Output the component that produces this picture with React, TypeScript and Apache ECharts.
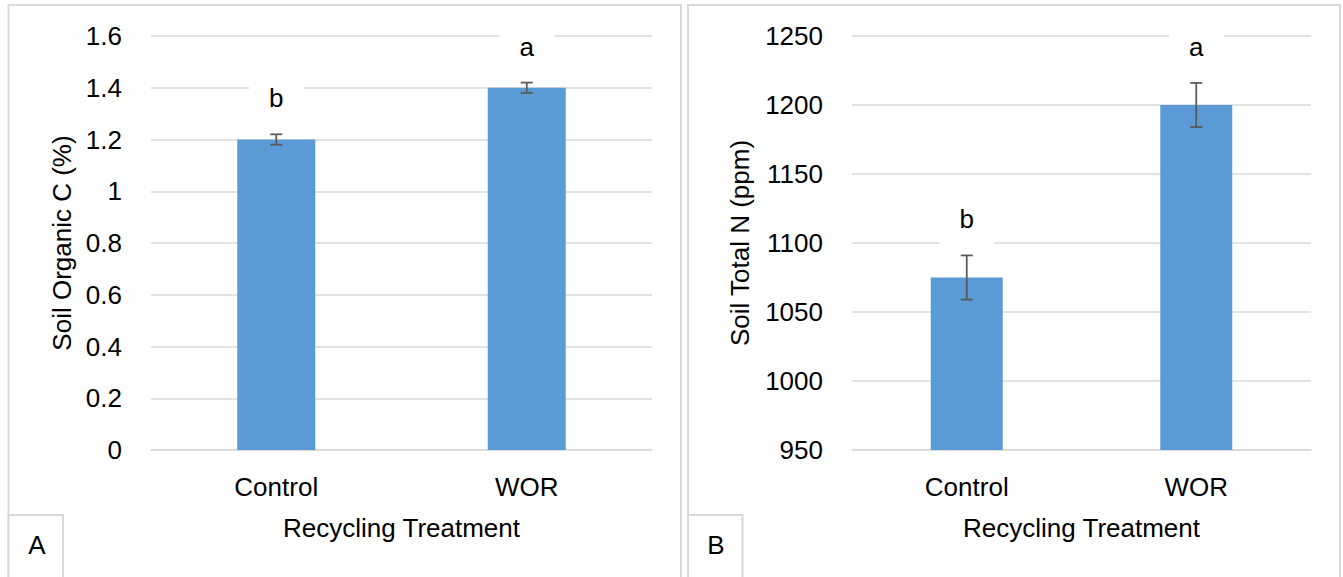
import React, { useEffect, useRef } from "react";
import * as echarts from "echarts";

const categories = ["Control", "WOR"];
const organicC = [1.2, 1.4];
const organicCErr = [0.02, 0.02];
const organicCLetters = ["b", "a"];
const totalN = [1075, 1200];
const totalNErr = [16, 16];
const totalNLetters = ["b", "a"];
const panelTags = ["A", "B"];

const FONT = "'Liberation Sans', Arial, sans-serif";
const GRID_COLOR = "#D9D9D9";
const BAR_COLOR = "#5B9BD5";
const ERR_COLOR = "#595959";

function errRender(letters: string[]) {
  return (params: any, api: any) => {
    const i = api.value(0);
    const v = api.value(1);
    const e = api.value(2);
    const top = api.coord([i, v + e]);
    const bot = api.coord([i, v - e]);
    const x = top[0];
    const half = 6;
    const st = { stroke: ERR_COLOR, lineWidth: 1.75 };
    return {
      type: "group",
      children: [
        { type: "line", shape: { x1: x, y1: top[1], x2: x, y2: bot[1] }, style: st },
        { type: "line", shape: { x1: x - half, y1: top[1], x2: x + half, y2: top[1] }, style: st },
        { type: "line", shape: { x1: x - half, y1: bot[1], x2: x + half, y2: bot[1] }, style: st },
        {
          type: "text",
          x: x,
          y: top[1] - 36,
          style: {
            text: letters[params.dataIndex],
            fill: "#000",
            font: `26px ${FONT}`,
            align: "center",
            verticalAlign: "middle",
            backgroundColor: "#fff",
            padding: [14, 20],
          },
        },
      ],
    };
  };
}

export default function App() {
  const ref = useRef<HTMLDivElement>(null);
  useEffect(() => {
    if (!ref.current) return;
    const chart = echarts.init(ref.current, null, { renderer: "svg" });
    const axisLabel = { color: "#000", fontSize: 26, fontFamily: FONT };
    const xAxisCommon = {
      type: "category",
      data: categories,
      axisLine: { show: true, lineStyle: { color: GRID_COLOR, width: 1.5 } },
      axisTick: { show: false },
      axisLabel: { ...axisLabel, margin: 24 },
      name: "Recycling Treatment",
      nameLocation: "middle",
      nameGap: 65,
      nameTextStyle: { color: "#000", fontSize: 26, fontFamily: FONT },
    };
    const yAxisCommon = {
      type: "value",
      axisLine: { show: false },
      axisTick: { show: false },
      splitLine: { lineStyle: { color: GRID_COLOR, width: 1.5 } },
      axisLabel: { ...axisLabel, margin: 29, formatter: (v: number) => String(v) },
      nameLocation: "middle",
      nameTextStyle: { color: "#000", fontSize: 26, fontFamily: FONT },
    };
    chart.setOption({
      animation: false,
      backgroundColor: "#fff",
      textStyle: { fontFamily: FONT },
      grid: [
        { left: 151, right: 1343 - 652, top: 36, bottom: 577 - 450 },
        { left: 852, right: 1343 - 1311, top: 36, bottom: 577 - 450 },
      ],
      xAxis: [
        { ...xAxisCommon, gridIndex: 0 },
        { ...xAxisCommon, gridIndex: 1 },
      ],
      yAxis: [
        { ...yAxisCommon, gridIndex: 0, min: 0, max: 1.6, interval: 0.2, name: "Soil Organic C (%)", nameGap: 76 },
        { ...yAxisCommon, gridIndex: 1, min: 950, max: 1250, interval: 50, name: "Soil Total N (ppm)", nameGap: 99 },
      ],
      series: [
        {
          type: "bar",
          xAxisIndex: 0,
          yAxisIndex: 0,
          data: organicC,
          barWidth: 78,
          itemStyle: { color: BAR_COLOR },
        },
        {
          type: "bar",
          xAxisIndex: 1,
          yAxisIndex: 1,
          data: totalN,
          barWidth: 72,
          itemStyle: { color: BAR_COLOR },
        },
        {
          type: "custom",
          xAxisIndex: 0,
          yAxisIndex: 0,
          clip: false,
          z: 5,
          renderItem: errRender(organicCLetters),
          data: categories.map((_, i) => [i, organicC[i], organicCErr[i]]),
        },
        {
          type: "custom",
          xAxisIndex: 1,
          yAxisIndex: 1,
          clip: false,
          z: 5,
          renderItem: errRender(totalNLetters),
          data: categories.map((_, i) => [i, totalN[i], totalNErr[i]]),
        },
      ],
      graphic: [
        { type: "rect", shape: { x: 8.5, y: 5, width: 672.5, height: 600 }, style: { fill: "none", stroke: GRID_COLOR, lineWidth: 2 }, z: -1 },
        { type: "rect", shape: { x: 688, y: 5, width: 652, height: 600 }, style: { fill: "none", stroke: GRID_COLOR, lineWidth: 2 }, z: -1 },
        { type: "rect", shape: { x: 8.5, y: 515, width: 54.5, height: 90 }, style: { fill: "#fff", stroke: GRID_COLOR, lineWidth: 2 } },
        { type: "rect", shape: { x: 688, y: 515, width: 54.5, height: 90 }, style: { fill: "#fff", stroke: GRID_COLOR, lineWidth: 2 } },
        { type: "text", x: 37, y: 545, style: { text: panelTags[0], fill: "#000", font: `26px ${FONT}`, align: "center", verticalAlign: "middle" } },
        { type: "text", x: 716, y: 545, style: { text: panelTags[1], fill: "#000", font: `26px ${FONT}`, align: "center", verticalAlign: "middle" } },
      ],
    });
    return () => chart.dispose();
  }, []);
  return <div ref={ref} style={{ position: "fixed", left: 0, top: 0, width: 1343, height: 577 }} />;
}
